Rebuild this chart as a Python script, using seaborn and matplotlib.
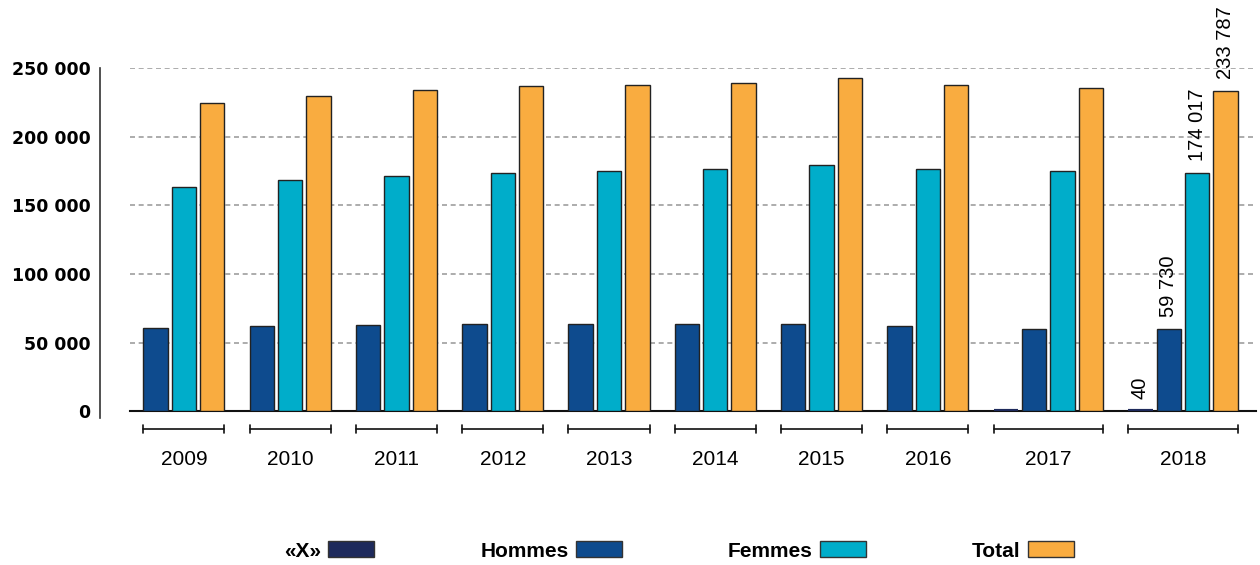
import numpy as np
import pandas as pd
import matplotlib.pyplot as plt
import matplotlib.colors as mcolors
import seaborn as sns

# Data
years = ["2009", "2010", "2011", "2012", "2013", "2014", "2015", "2016", "2017", "2018"]
x_values = [np.nan, np.nan, np.nan, np.nan, np.nan, np.nan, np.nan, np.nan, 30, 40]
hommes = [60900, 62100, 62900, 63400, 63400, 63600, 63600, 61900, 59900, 59730]
femmes = [163800, 168500, 171600, 174000, 175300, 176500, 179400, 176500, 175300, 174017]
total = [224700, 230200, 234400, 237300, 238300, 239300, 243200, 238300, 235600, 233787]
series = ["«X»", "Hommes", "Femmes", "Total"]
colors = ["#1e2a5c", "#0e4b8e", "#00adca", "#f9ac40"]
label_year = "2018"

# long table, missing series are dropped so the bars of a year sit side by side
rows = []
for g, year in enumerate(years):
    for name, vals in zip(series, [x_values, hommes, femmes, total]):
        v = vals[g]
        if not np.isnan(v):
            rows.append((year, g, name, v))
df = pd.DataFrame(rows, columns=["year", "group", "serie", "value"])
group_gap = 0.745
df["pos"] = np.arange(len(df)) + df["group"] * group_gap

sns.set_style("white")
plt.rcParams["font.family"] = ["Liberation Sans", "DejaVu Sans"]
plt.rcParams.update({"text.color": "black", "xtick.color": "black",
                     "ytick.color": "black", "axes.labelcolor": "black"})

fig = plt.figure(figsize=(12.6, 5.65), dpi=100)
ax = fig.add_axes([130 / 1260, 154 / 565, 1126 / 1260, 342.5 / 565])

bar_w = 0.86
sns.barplot(data=df, x="pos", y="value", hue="serie", hue_order=series,
            palette=colors, saturation=1, native_scale=True, dodge=False, width=bar_w,
            errorbar=None, edgecolor="#222222", linewidth=1, ax=ax, zorder=3)

# the tiny «X» bars: thicker outline in their own colour so they stay visible
x_rgb = mcolors.to_rgb(colors[0])
for p in ax.patches:
    if np.allclose(p.get_facecolor()[:3], x_rgb, atol=0.01):
        p.set_edgecolor(colors[0])
        p.set_linewidth(3)

ax.set_xlim(-0.9, 38.78)
ax.set_ylim(0, 250000)
ax.set_xlabel("")
ax.set_ylabel("")

for s in ["top", "right"]:
    ax.spines[s].set_visible(False)
ax.spines["left"].set_position(("outward", 21.6))
ax.spines["left"].set_bounds(-5000, 250000)
ax.spines["left"].set_color("#333333")
ax.spines["left"].set_linewidth(1.2)
ax.spines["bottom"].set_color("#111111")
ax.spines["bottom"].set_linewidth(1.5)

# grid
ax.set_axisbelow(True)
ax.yaxis.grid(True, color="#9e9e9e", linestyle=(0, (3, 2.2)), linewidth=1.2)
ax.xaxis.grid(False)

# y axis
yt = np.arange(0, 250001, 50000)
ax.set_yticks(yt)
ax.set_yticklabels([f"{v:,.0f}".replace(",", " ") for v in yt],
                   fontsize=12.5, fontweight="bold", family="DejaVu Sans", color="black")
ax.tick_params(axis="y", length=0, pad=7)

# x axis: year labels centred on each group, with brackets
grp = df.groupby("year", sort=False)["pos"]
starts = grp.min()
ends = grp.max()
centers = (starts + ends) / 2
ax.set_xticks(centers.values)
ax.set_xticklabels(centers.index, fontsize=15, color="black")
ax.tick_params(axis="x", length=0, pad=28)

trans = ax.get_xaxis_transform()
yb = -18 / 342.5
dt = 4 / 342.5
for y in years:
    x0 = starts[y] - bar_w / 2
    x1 = ends[y] + bar_w / 2
    ax.plot([x0, x1], [yb, yb], color="#111111", lw=1.2, transform=trans, clip_on=False)
    for xx in (x0, x1):
        ax.plot([xx, xx], [yb - dt, yb + dt], color="#111111", lw=1.2, transform=trans, clip_on=False)

# value labels on the last year
for _, r in df[df["year"] == label_year].iterrows():
    ax.annotate(f"{r['value']:,.0f}".replace(",", " "), (r["pos"], r["value"]),
                xytext=(0, 8.6), textcoords="offset points", rotation=90,
                ha="center", va="bottom", fontsize=14.5, color="black",
                annotation_clip=False)

# legend: label then swatch
leg = ax.get_legend()
handles = leg.legend_handles
labels = [t.get_text() for t in leg.get_texts()]
leg.remove()
for h, c in zip(handles, colors):
    h.set_facecolor(c)
    h.set_edgecolor("#333333")
    h.set_linewidth(1)
fig.legend(handles, labels, loc="center", bbox_to_anchor=(679 / 1260, 1 - 551 / 565),
           ncol=4, frameon=False, markerfirst=False, handlelength=2.2, handleheight=0.8,
           handletextpad=0.35, columnspacing=5.1, labelcolor="black",
           prop={"family": "Liberation Sans", "weight": "bold", "size": 15})

fig.savefig("out.png", dpi=100)
